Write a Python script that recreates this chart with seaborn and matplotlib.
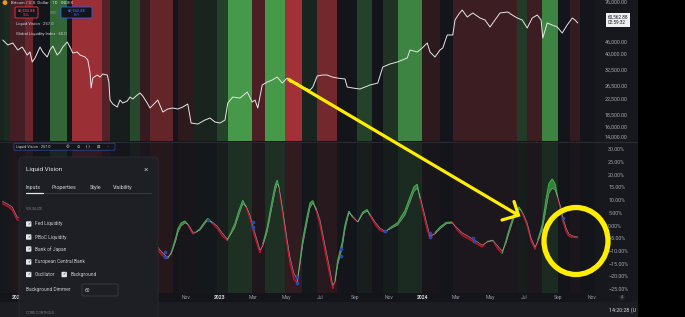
import numpy as np
import pandas as pd
import matplotlib
matplotlib.use("Agg")
import matplotlib.pyplot as plt
import matplotlib.dates as mdates
from matplotlib.patches import Rectangle, FancyBboxPatch, Ellipse, Circle
from matplotlib.collections import LineCollection
from matplotlib.ticker import NullLocator, NullFormatter
import matplotlib.transforms as mtransforms
import seaborn as sns

# ---------------- data ----------------
START = pd.Timestamp("2021-12-01")
END_DAY = 1071  # right edge of the plot (days after START)

price_day = [5, 14, 23, 32, 40, 49, 54, 58, 63, 72, 77, 85, 90, 95, 103, 108, 113, 121, 126, 131,
             139, 144, 153, 158, 162, 164, 167, 175, 180, 185, 193, 196, 198, 203, 211, 216, 221, 229, 234, 239,
             247, 252, 257, 265, 270, 284, 293, 302, 311, 320, 329, 338, 344, 356, 369, 378, 387, 396, 405, 410,
             419, 432, 445, 454, 459, 464, 472, 481, 490, 499, 508, 517, 522, 535, 545, 558, 563, 571, 580, 589,
             598, 607, 621, 625, 635, 648, 657, 666, 680, 689, 702, 715, 724, 733, 738, 751, 760, 769, 774, 783,
             792, 797, 805, 815, 819, 826, 832, 841, 851, 864, 873, 882, 891, 900, 914, 922, 931, 940, 949, 958,
             967, 974, 977, 985, 994, 1003, 1012, 1021, 1030, 1035, 1040]
price_usd = [47170, 44300, 45430, 41610, 43200, 39080, 40580, 35790, 37630, 43200,
             40580, 38110, 41610, 43750, 39080, 40580, 43200, 46000, 43200, 40070,
             40580, 39080, 38110, 36700, 31570, 25830, 29280, 30400, 29650, 30790,
             30400, 27850, 22220, 21130, 20350, 22220, 21400, 21940, 23070, 22500,
             23660, 24260, 23360, 21400, 20100, 22220, 19110, 19850, 20100, 19850,
             20350, 21130, 16650, 16440, 17290, 17730, 16860, 16650, 17290, 21400,
             23070, 22780, 24560, 21670, 22220, 20100, 26820, 27850, 28560, 29650,
             27500, 29280, 27850, 27500, 26160, 25190, 26160, 30030, 30400, 30400,
             29650, 29280, 28920, 26160, 25830, 25510, 26160, 26820, 27500, 33620,
             34910, 35790, 36700, 37630, 41610, 40580, 42670, 45430, 40580, 38110,
             41610, 42670, 50220, 50220, 60630, 65370, 68730, 62930, 66200, 62150,
             60630, 55520, 60630, 66200, 67030, 64540, 62150, 60630, 54830, 62150,
             64540, 60630, 48370, 58380, 56950, 55520, 51500, 56950, 62150, 60630, 58380]

osc_day = [4, 14, 22, 31, 284, 288, 293, 299, 302, 308, 311, 317, 320, 326, 333, 338, 342, 347, 353, 360,
           367, 374, 382, 391, 400, 409, 416, 423, 430, 437, 443, 450, 459, 468, 473, 481, 488, 495, 499, 502,
           509, 517, 522, 529, 535, 540, 545, 553, 558, 563, 569, 576, 585, 594, 599, 603, 608, 616, 621, 628,
           635, 644, 653, 661, 666, 675, 684, 693, 702, 716, 729, 738, 745, 751, 756, 761, 769, 774, 783, 792,
           803, 814, 823, 832, 842, 851, 860, 868, 877, 887, 896, 904, 911, 918, 927, 934, 938, 943, 949, 956,
           963, 968, 976, 983, 988, 994, 999, 1004, 1010, 1013, 1019, 1024, 1031, 1040]
osc_main = [9.6, 8.4, 7.3, 3.3, -8.4, -9.6, -10.8, -12.0, -12.4, -11.2,
            -9.6, -5.7, -2.9, -0.2, 1.0, 0.6, -0.6, -2.6, -2.6, -1.8,
            0.2, 2.2, 1.4, -0.2, -2.9, -5.3, -3.3, -0.6, 4.1, 8.4,
            7.7, 4.1, -2.9, -9.6, -8.1, -2.6, 5.3, 13.2, 16.3, 15.5,
            6.1, -5.7, -12.4, -18.7, -21.0, -15.5, -7.7, 1.4, 6.9, 8.8,
            6.9, 2.2, -7.7, -17.5, -23.4, -22.2, -15.5, -8.8, -1.8, 4.9,
            3.7, 1.4, 4.5, 5.7, 4.5, 1.4, -1.0, -2.2, -1.4, 0.2,
            4.1, 9.2, 13.2, 14.7, 11.6, 7.3, 0.2, -4.1, -3.3, -1.4,
            0.6, 1.0, -1.0, -2.9, -4.1, -5.3, -6.5, -7.7, -6.5, -5.7,
            -8.1, -10.0, -6.9, -1.8, 4.1, 6.5, 6.1, 4.1, 1.0, -4.9,
            -8.4, -6.5, -1.8, 6.5, 12.5, 14.7, 14.0, 11.0, 6.9, 3.3,
            -1.0, -3.3, -4.1, -4.5]
osc_lead = [8.6, 7.4, 6.1, 2.1, -9.4, -10.8, -12.0, -13.0, -12.9, -10.7,
            -8.6, -4.2, -1.4, 1.0, 1.8, 0.3, -1.4, -3.4, -2.6, -1.2,
            1.0, 2.8, 0.9, -1.2, -4.1, -5.9, -2.5, 0.9, 5.9, 9.9,
            7.2, 2.6, -4.9, -10.8, -7.3, -0.6, 7.8, 15.7, 17.8, 15.0,
            4.1, -8.2, -14.9, -21.2, -22.5, -14.0, -5.2, 3.9, 8.9, 9.8,
            5.9, 0.2, -10.2, -20.0, -24.9, -21.7, -13.5, -6.6, 0.4, 5.7,
            3.1, 1.4, 5.3, 6.3, 3.9, 0.4, -2.0, -2.7, -0.9, 1.2,
            5.9, 11.2, 15.2, 16.2, 10.6, 5.5, -1.8, -5.1, -2.8, -0.6,
            1.2, 1.4, -1.8, -3.9, -5.1, -6.3, -7.5, -8.5, -6.2, -6.0,
            -9.3, -11.0, -5.7, -0.3, 5.3, 7.3, 5.8, 3.3, -0.2, -6.1,
            -9.4, -5.7, 0.2, 10.5, 16.5, 18.3, 16.5, 11.0, 4.9, 1.8,
            -2.5, -4.3, -4.7, -4.8]

sig_day = [297, 297, 374, 455, 455, 535, 535, 614, 614, 693, 774, 774, 851, 853, 1013]
sig_pct = [-10.4, -12.4, 2.2, 1.4, -0.6, -20.2, -22.6, -9.2, -12.0, -2.2, -2.9, -4.5, -4.9, -6.1, 2.9]

band_start_day = [0, 7, 18, 45, 59, 90, 121, 130, 184, 198, 234, 252, 270, 311, 320, 347, 391, 410, 454, 477,
                  513, 544, 571, 607, 643, 670, 689, 716, 760, 792, 815, 931, 949, 976, 1004, 1026, 1044]
band_signal = [0.1, 0.15, -0.3, -0.55, 0.0, 0.55, 0.0, -0.85, -0.4, 0.05,
               0.35, -0.2, -0.5, 0.0, -0.15, 0.1, 0.3, 0.9, -0.35, 0.9,
               -0.9, 0.1, -0.6, 0.0, 0.3, 0.0, 0.2, 0.75, -0.15, 0.0,
               -0.25, 0.25, -0.25, 0.75, 0.0, -0.2, 0.0]

price_ticks = [76000, 46000, 40000, 32500, 26500, 22500, 18500, 16000, 14000]
pct_ticks = [30, 25, 20, 15, 10, 5, 0, -5, -10, -15, -20, -25]
month_ticks = ["2022-01-01", "2022-03-01", "2022-05-01", "2022-07-01", "2022-09-01", "2022-11-01",
               "2023-01-01", "2023-03-01", "2023-05-01", "2023-07-01", "2023-09-01", "2023-11-01",
               "2024-01-01", "2024-03-01", "2024-05-01", "2024-07-01", "2024-09-01", "2024-11-01"]
month_labels = ["2022", "Mar", "May", "Jul", "Sep", "Nov", "2023", "Mar", "May", "Jul", "Sep", "Nov",
                "2024", "Mar", "May", "Jul", "Sep", "Nov"]
last_price = 60562.88
sell_price = 60552.88
spread = 0.00
liquid_vision = 257.0
gli_value = 60.0
dimmer = 60
inputs = ["Fed Liquidity", "PBoC Liquidity", "Bank of Japan", "European Central Bank"]

# ---------------- styling ----------------
sns.set_theme(style="dark")
plt.rcParams["font.family"] = ["Roboto", "DejaVu Sans"]
plt.rcParams["axes.grid"] = False

W, H = 685, 317
BGC = "#14151a"
fig = plt.figure(figsize=(W / 100, H / 100), dpi=100, facecolor="#000000")

def frac_rect(x0, y0, x1, y1):
    return [x0 / W, 1 - y1 / H, (x1 - x0) / W, (y1 - y0) / H]

# app background
bg = fig.add_axes([0, 0, 1, 1])
bg.set_xlim(0, W); bg.set_ylim(H, 0); bg.axis("off"); bg.set_zorder(-10)
bg.add_patch(Rectangle((0, 0), 638, 317, color=BGC, lw=0))
bg.add_patch(Rectangle((595, 0), 43, 302, color="#17181d", lw=0))
bg.add_patch(Rectangle((0, 302), 638, 15, color="#1c1d22", lw=0))
bg.plot([0, 638], [142, 142], color="#2a2b31", lw=0.8)

BGv = np.array([20, 21, 26]) / 255
GREEN = np.array([74, 168, 78]) / 255
RED = np.array([178, 52, 58]) / 255

def band_color(s, dim=1.0):
    tgt = GREEN if s >= 0 else RED
    return tuple(np.clip(BGv + abs(s) * dim * (tgt - BGv), 0, 1))

x0d, x1d = START, START + pd.Timedelta(days=END_DAY)

# ---------------- top panel: price ----------------
ax1 = fig.add_axes(frac_rect(0, 0, 595, 141))
ax1.set_facecolor(BGC)
edges = band_start_day + [END_DAY]
price_df = pd.DataFrame({"date": START + pd.to_timedelta(price_day, unit="D"), "price": price_usd})
osc_df = pd.DataFrame({"date": START + pd.to_timedelta(osc_day, unit="D"),
                       "main": osc_main, "lead": osc_lead})
sig_df = pd.DataFrame({"date": START + pd.to_timedelta(sig_day, unit="D"), "pct": sig_pct})

ax2 = fig.add_axes(frac_rect(0, 143, 595, 293))
ax2.set_facecolor(BGC)

for i, s in enumerate(band_signal):
    a = START + pd.Timedelta(days=edges[i])
    b = START + pd.Timedelta(days=edges[i + 1])
    ax1.axvspan(a, b, color=band_color(s), lw=0, zorder=0)
    ax2.axvspan(a, b, color=band_color(s, 0.2), lw=0, zorder=0)

sns.lineplot(data=price_df, x="date", y="price", ax=ax1, color="#e6e6e6", linewidth=0.7, zorder=3)
ax1.set_yscale("log")
ax1.set_ylim(13290, 77900)
ax1.set_xlim(x0d, x1d)
ax1.set_xticks([])
ax1.set_xlabel(""); ax1.set_ylabel("")
ax1.yaxis.tick_right()
ax1.set_yticks(price_ticks)
ax1.set_yticklabels([f"{v:,.2f}" for v in price_ticks])
ax1.yaxis.set_minor_locator(NullLocator())
ax1.yaxis.set_minor_formatter(NullFormatter())
ax1.tick_params(axis="y", length=0, pad=7.2, labelsize=3.9, labelcolor="#a3a6af")

# price box on the scale
bt = mtransforms.blended_transform_factory(ax1.transAxes, ax1.transData)
ax1.text(1.021, last_price, f"{last_price:,.2f}\n02:59:32", transform=bt, ha="left", va="center",
         fontsize=3.4, color="#131722", linespacing=1.15, clip_on=False, zorder=30,
         bbox=dict(boxstyle="square,pad=0.35", fc="#f0f0f0", ec="none"))

# ---------------- bottom panel: oscillator ----------------
main = np.array(osc_main); lead = np.array(osc_lead)
dnum = mdates.date2num(osc_df["date"])
ax2.fill_between(osc_df["date"], main, lead, where=lead >= main, interpolate=True,
                 color="#2f8a36", alpha=0.95, lw=0, zorder=2)
ax2.fill_between(osc_df["date"], main, lead, where=lead < main, interpolate=True,
                 color="#8c1020", alpha=0.95, lw=0, zorder=2)
segs, cols = [], []
for i in range(len(dnum) - 1):
    segs.append([(dnum[i], lead[i]), (dnum[i + 1], lead[i + 1])])
    up = (lead[i] + lead[i + 1]) >= (main[i] + main[i + 1])
    cols.append("#44a84c" if up else "#c0182a")
ax2.add_collection(LineCollection(segs, colors=cols, linewidths=0.8, zorder=3))
sns.lineplot(data=osc_df, x="date", y="main", ax=ax2, color="#a9acb3", linewidth=0.35, zorder=4)
sns.scatterplot(data=sig_df, x="date", y="pct", ax=ax2, color="#2344a8", edgecolor="#3a5bd0",
                linewidth=0.3, s=5, zorder=5)
ax2.set_xlim(x0d, x1d)
ax2.set_ylim(-26.5, 32.4)
ax2.set_xlabel(""); ax2.set_ylabel("")
ax2.yaxis.tick_right()
ax2.set_yticks(pct_ticks)
ax2.set_yticklabels([f"{v:.2f}%".replace("-", "\u2212") for v in pct_ticks])
ax2.tick_params(axis="y", length=0, pad=9.5, labelsize=3.9, labelcolor="#a3a6af")
ax2.set_xticks(pd.to_datetime(month_ticks))
ax2.set_xticklabels(month_labels)
ax2.tick_params(axis="x", length=0, pad=1.6, labelsize=3.6, labelcolor="#9598a1")
for lab in ax2.get_xticklabels():
    if lab.get_text().isdigit():
        lab.set_color("#d1d4dc"); lab.set_fontweight("bold")

for ax in (ax1, ax2):
    for sp in ax.spines.values():
        sp.set_visible(False)

# ---------------- overlay (UI + annotations) ----------------
ov = fig.add_axes([0, 0, 1, 1])
ov.set_xlim(0, W); ov.set_ylim(H, 0); ov.axis("off"); ov.set_zorder(20)
ov.patch.set_alpha(0)
TXT = "#d1d4dc"

# top legend
ov.add_patch(Circle((5, 2.6), 2.4, color="#f7931a", lw=0))
ov.text(11, 2.7, "Bitcoin / U.S. Dollar \u00b7 1D \u00b7 INDEX", fontsize=3.2, color=TXT, va="center", ha="left")
ov.add_patch(FancyBboxPatch((15, 7), 23, 11, boxstyle="round,pad=0,rounding_size=1.2",
                            fc=BGC, ec="#f23645", lw=0.6))
ov.text(26.5, 10.8, f"{sell_price:,.2f}", fontsize=2.8, color="#f23645", ha="center", va="center", fontweight="bold")
ov.text(26.5, 15.3, "SELL", fontsize=2.3, color="#f23645", ha="center", va="center")
ov.text(53.5, 12.5, f"{spread:.2f}", fontsize=2.6, color="#9598a1", ha="center", va="center")
ov.add_patch(FancyBboxPatch((61, 7), 31, 11, boxstyle="round,pad=0,rounding_size=1.2",
                            fc=BGC, ec="#2962ff", lw=0.6))
ov.text(76.5, 10.8, f"{last_price:,.2f}", fontsize=2.8, color="#2962ff", ha="center", va="center", fontweight="bold")
ov.text(76.5, 15.3, "BUY", fontsize=2.3, color="#2962ff", ha="center", va="center")
ov.text(16, 24.5, f"Liquid Vision \u00b7 {liquid_vision:.1f}", fontsize=3.0, color=TXT, va="center")
ov.text(16, 33.5, f"Global Liquidity Index \u00b7 {gli_value:.1f}", fontsize=3.0, color=TXT, va="center")

# indicator legend of the lower pane
ov.add_patch(FancyBboxPatch((14, 143.2), 101, 7, boxstyle="round,pad=0,rounding_size=1",
                            fc=BGC, ec="#2f4ea8", lw=0.5))
ov.text(16, 146.8, f"Liquid Vision \u00b7 {liquid_vision:.1f}", fontsize=2.8, color=TXT, va="center")
for xx, sym in zip([68, 78, 88, 98, 108], ["\u25ce", "\u2299", "{ }", "\u229f", "\u00b7\u00b7\u00b7"]):
    ov.text(xx, 146.8, sym, fontsize=3.0, color=TXT, va="center", ha="center")

# settings dialog
ov.add_patch(FancyBboxPatch((19, 157), 139, 180, boxstyle="round,pad=0,rounding_size=4",
                            fc="#1e1f25", ec="#2c2d33", lw=0.6))
ov.text(26, 169.5, "Liquid Vision", fontsize=4.6, color="#e4e6eb", va="center")
ov.text(146, 169.5, "\u00d7", fontsize=6, color="#b2b5be", va="center", ha="center")
for xx, t in zip([26, 52, 90, 113], ["Inputs", "Properties", "Style", "Visibility"]):
    ov.text(xx, 187, t, fontsize=3.9, color="#d1d4dc", va="center")
ov.plot([26, 151], [193, 193], color="#363a45", lw=0.7)
ov.plot([26, 43], [193, 193], color="#e4e6eb", lw=0.9)
ov.text(26, 209, "VISUALIZE", fontsize=2.6, color="#787b86", va="center")

def checkbox(x, y, label):
    ov.add_patch(FancyBboxPatch((x, y - 2.7), 5.4, 5.4, boxstyle="round,pad=0,rounding_size=0.8",
                                fc="#e6e7ea", ec="none"))
    ov.text(x + 2.7, y, "\u2713", fontsize=3.0, color="#1e1f25", ha="center", va="center", fontweight="bold")
    ov.text(x + 9, y, label, fontsize=3.5, color="#c8cad0", va="center")

for yy, lab in zip([224, 237, 249, 262], inputs):
    checkbox(26, yy, lab)
checkbox(26, 274.5, "Oscillator")
checkbox(61.5, 274.5, "Background")
ov.text(26, 290, "Background Dimmer", fontsize=3.5, color="#c8cad0", va="center")
ov.add_patch(FancyBboxPatch((82, 284), 36, 12, boxstyle="round,pad=0,rounding_size=1.5",
                            fc="#1e1f25", ec="#3a3d47", lw=0.6))
ov.text(85, 290, f"{dimmer}", fontsize=3.5, color="#d1d4dc", va="center")
ov.text(26, 313.5, "CORE CONTROLS", fontsize=2.6, color="#787b86", va="center")

# status bar / axis badge
ov.text(609, 310, "14:20:28 (U", fontsize=3.9, color="#d1d4dc", va="center", ha="left")
ov.add_patch(Circle((622, 297.5), 2.6, fc="#2a2b31", ec="none"))
ov.text(622, 297.5, "A", fontsize=2.5, color="#9598a1", ha="center", va="center")
ov.add_patch(Rectangle((638, 0), 47, 317, color="#000000", lw=0))

# yellow arrow + circle
YEL = "#ffee00"
ov.plot([288, 518], [79, 215], color=YEL, lw=2.3, solid_capstyle="butt")
ov.plot([502, 518.5, 514], [220, 215.2, 201.5], color=YEL, lw=2.3, solid_joinstyle="miter")
ov.add_patch(Ellipse((576, 241), 64, 67, fill=False, ec=YEL, lw=3.8))

fig.savefig("out.png", dpi=100, facecolor=fig.get_facecolor())
